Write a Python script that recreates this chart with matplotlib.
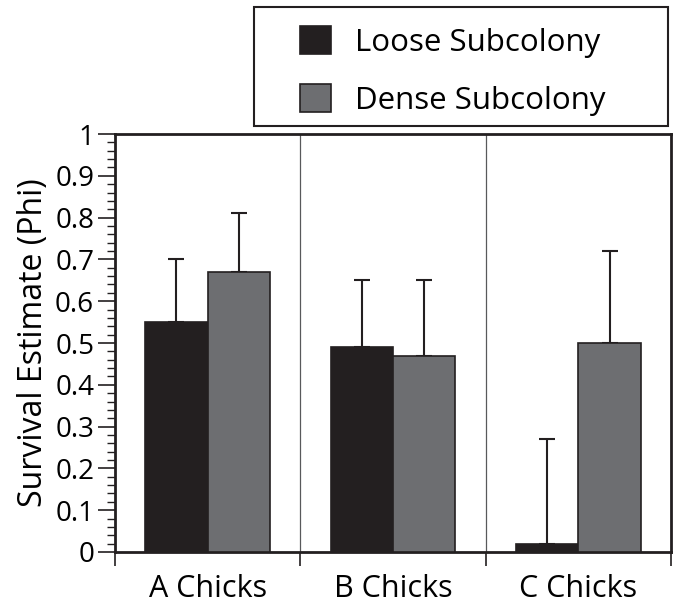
import numpy as np
import matplotlib
matplotlib.use('Agg')
import matplotlib.pyplot as plt
from matplotlib.patches import Rectangle
from matplotlib.ticker import MultipleLocator, FuncFormatter

plt.rcParams['font.family'] = ['Open Sans', 'DejaVu Sans']

groups = ['A Chicks', 'B Chicks', 'C Chicks']
series = ['Loose Subcolony', 'Dense Subcolony']
loose = [0.55, 0.49, 0.02]
dense = [0.67, 0.47, 0.50]
loose_upper = [0.70, 0.65, 0.27]
dense_upper = [0.81, 0.65, 0.72]
colors = ['#231f20', '#6d6e71']

fig = plt.figure(figsize=(6.75, 6.04), dpi=100)
ax = fig.add_axes([0.1704, 0.0861, 0.8236, 0.692])

x = np.arange(len(groups)) + 0.5
w = 0.337
vals = [loose, dense]
uppers = [loose_upper, dense_upper]
for i, (v, up) in enumerate(zip(vals, uppers)):
    pos = x + (i - 0.5) * w
    err = np.array(up) - np.array(v)
    ax.bar(pos, v, w, color=colors[i], edgecolor='#231f20', linewidth=1.2,
           label=series[i], zorder=3)
    ax.errorbar(pos, v, yerr=[np.zeros_like(err), err], fmt='none',
                ecolor='#231f20', elinewidth=1.5, capsize=5.8, capthick=1.5,
                zorder=2)

# group dividers
for b in [1, 2]:
    ax.axvline(b, color='#58595b', linewidth=0.9, zorder=1)

ax.set_xlim(0, 3)
ax.set_ylim(0, 1)
ax.set_xticks([0, 1, 2, 3])
ax.set_xticklabels([])
ax.set_xticks(x, minor=True)
ax.set_xticklabels(groups, minor=True, fontsize=22)
ax.tick_params(axis='x', which='major', direction='out', length=10, width=1.2,
               color='#231f20')
ax.tick_params(axis='x', which='minor', length=0, pad=16)

ax.yaxis.set_major_locator(MultipleLocator(0.1))
ax.yaxis.set_minor_locator(MultipleLocator(0.02))
ax.yaxis.set_major_formatter(FuncFormatter(lambda v, p: ('%g' % round(v, 2))))
ax.tick_params(axis='y', which='major', direction='out', length=12, width=1.2,
               labelsize=20, color='#231f20', pad=3)
ax.tick_params(axis='y', which='minor', direction='out', length=6, width=1.0,
               color='#231f20')
ax.set_ylabel('Survival Estimate (Phi)', fontsize=23, labelpad=4)

for s in ax.spines.values():
    s.set_linewidth(2)
    s.set_color('#231f20')

# legend box
fig.patches.append(Rectangle((254 / 675, 1 - 126 / 604), 414 / 675, 119 / 604,
                             transform=fig.transFigure, fill=False,
                             edgecolor='#231f20', linewidth=1.5))
fig.legend(loc='upper left', bbox_to_anchor=(300 / 675, 1 - 26 / 604),
           frameon=False, fontsize=22.5, handlelength=1.0, handleheight=1.0,
           handletextpad=0.75, labelspacing=0.85, borderpad=0, borderaxespad=0)

fig.savefig('out.png', dpi=100)
